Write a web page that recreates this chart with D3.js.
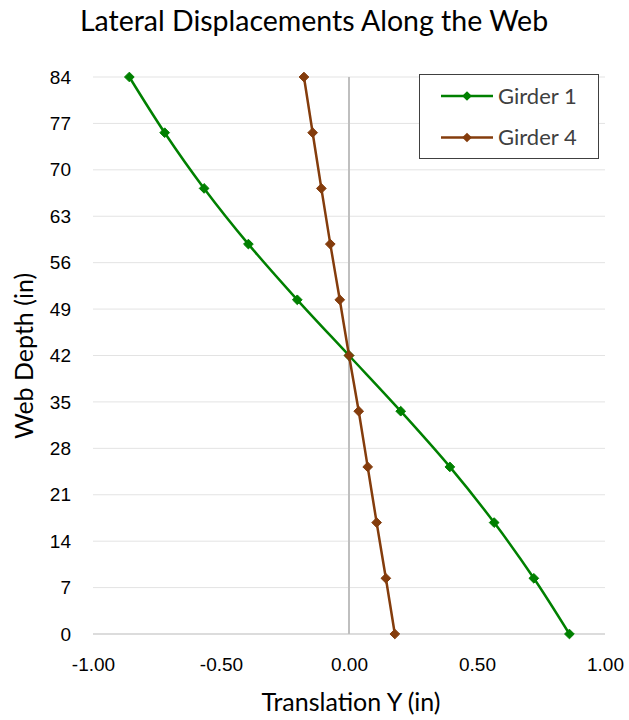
<!DOCTYPE html>
<html>
<head>
<meta charset="utf-8">
<script src="https://cdn.jsdelivr.net/npm/d3@7"></script>
<style>
  html, body { margin: 0; padding: 0; background: #fff; }
  svg { display: block; font-family: Lato, "Open Sans", "Noto Sans", sans-serif; }
</style>
</head>
<body>
<svg id="chart" width="629" height="720"></svg>
<script>
// Web depth stations (in)
const depths = [0, 8.4, 16.8, 25.2, 33.6, 42, 50.4, 58.8, 67.2, 75.6, 84];
// Lateral translation along Y (in) at each station
const girder1 = [0.861, 0.722, 0.567, 0.394, 0.202, 0, -0.202, -0.393, -0.566, -0.720, -0.858];
const girder4 = [0.179, 0.144, 0.108, 0.073, 0.038, 0, -0.036, -0.073, -0.108, -0.142, -0.176];
const seriesNames = ["Girder 1", "Girder 4"];
const seriesColors = ["#008000", "#843C0C"];
const xTicks = [-1, -0.5, 0, 0.5, 1];
const yTicks = [0, 7, 14, 21, 28, 35, 42, 49, 56, 63, 70, 77, 84];

const svg = d3.select("#chart");
const plot = { left: 93, right: 605, top: 77, bottom: 634 };

const x = d3.scaleLinear().domain([-1, 1]).range([plot.left, plot.right]);
const y = d3.scaleLinear().domain([0, 84]).range([plot.bottom, plot.top]);

// Plain hyphen for negatives
const fmtX = d3.formatLocale({ decimal: ".", thousands: ",", grouping: [3], currency: ["", ""], minus: "-" }).format(".2f");

// Title
svg.append("text")
  .attr("x", 314).attr("y", 31)
  .attr("text-anchor", "middle")
  .attr("font-size", 28.5)
  .attr("fill", "#000")
  .text("Lateral Displacements Along the Web");

// Horizontal gridlines
svg.append("g")
  .selectAll("line")
  .data(yTicks.filter(d => d !== 0))
  .join("line")
  .attr("x1", plot.left).attr("x2", plot.right)
  .attr("y1", d => y(d)).attr("y2", d => y(d))
  .attr("stroke", "#e3e3e3").attr("stroke-width", 1);

// Horizontal axis line at depth 0
svg.append("line")
  .attr("x1", plot.left).attr("x2", plot.right)
  .attr("y1", y(0)).attr("y2", y(0))
  .attr("stroke", "#d0d0d0").attr("stroke-width", 1.5);

// Vertical axis line crossing at zero translation
svg.append("line")
  .attr("x1", x(0)).attr("x2", x(0))
  .attr("y1", y(84)).attr("y2", y(0))
  .attr("stroke", "#bfbfbf").attr("stroke-width", 2);

// Y tick labels
const yAxis = d3.axisLeft(y).tickValues(yTicks).tickSize(0).tickPadding(0).tickFormat(d3.format("d"));
const gy = svg.append("g").attr("transform", "translate(71,0)").call(yAxis);
gy.select(".domain").remove();
gy.selectAll("text").attr("font-size", 19).attr("fill", "#000").attr("font-family", null);

// X tick labels
const xAxis = d3.axisBottom(x).tickValues(xTicks).tickSize(0).tickPadding(0).tickFormat(fmtX);
const gx = svg.append("g").attr("transform", `translate(0,${plot.bottom + 23})`).call(xAxis);
gx.select(".domain").remove();
gx.selectAll("text").attr("font-size", 19).attr("fill", "#000").attr("font-family", null);

// Axis titles
svg.append("text")
  .attr("x", 351).attr("y", 711)
  .attr("text-anchor", "middle")
  .attr("font-size", 25).attr("fill", "#000")
  .text("Translation Y (in)");

svg.append("text")
  .attr("transform", "translate(33,356) rotate(-90)")
  .attr("text-anchor", "middle")
  .attr("font-size", 25).attr("fill", "#000")
  .text("Web Depth (in)");

// Series
const series = [girder1, girder4].map((vals, i) => ({
  name: seriesNames[i],
  color: seriesColors[i],
  points: vals.map((v, j) => ({ v, d: depths[j] }))
}));

const line = d3.line()
  .x(p => x(p.v))
  .y(p => y(p.d))
  .curve(d3.curveCatmullRom.alpha(0.5));

const diamond = d3.symbol().type(d3.symbolDiamond2).size(60);

series.forEach(s => {
  svg.append("path")
    .datum(s.points)
    .attr("d", line)
    .attr("fill", "none")
    .attr("stroke", s.color)
    .attr("stroke-width", 2.5);
  svg.append("g")
    .selectAll("path")
    .data(s.points)
    .join("path")
    .attr("transform", p => `translate(${x(p.v)},${y(p.d)})`)
    .attr("d", diamond)
    .attr("fill", s.color)
    .attr("stroke", s.color)
    .attr("stroke-width", 1);
});

// Legend
const legend = svg.append("g");
legend.append("rect")
  .attr("x", 419.5).attr("y", 74.5)
  .attr("width", 179).attr("height", 84)
  .attr("fill", "#fff").attr("stroke", "#404040").attr("stroke-width", 1);

series.forEach((s, i) => {
  const ly = 96 + i * 41.5;
  legend.append("line")
    .attr("x1", 441).attr("x2", 493)
    .attr("y1", ly).attr("y2", ly)
    .attr("stroke", s.color).attr("stroke-width", 2.5);
  legend.append("path")
    .attr("transform", `translate(467,${ly})`)
    .attr("d", diamond)
    .attr("fill", s.color);
  legend.append("text")
    .attr("x", 498).attr("y", ly)
    .attr("dy", "0.35em")
    .attr("font-size", 22).attr("fill", "#404040")
    .text(s.name);
});
</script>
</body>
</html>
